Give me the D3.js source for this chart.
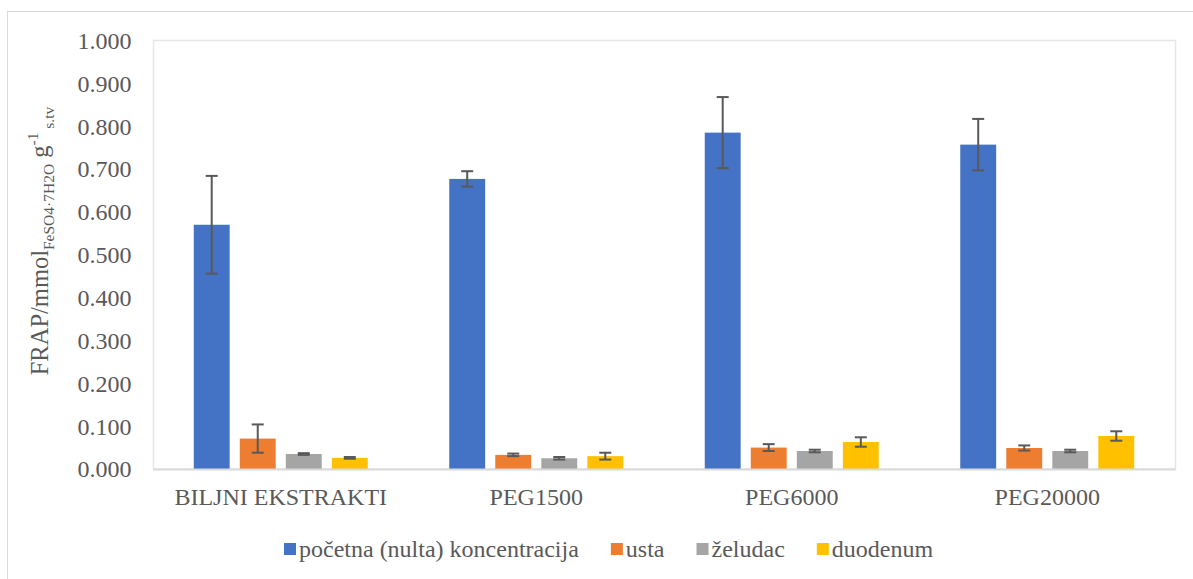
<!DOCTYPE html>
<html><head><meta charset="utf-8">
<script src="https://cdn.jsdelivr.net/npm/d3@7"></script>
<style>body{margin:0;background:#fff}svg{display:block}</style>
</head><body><svg id="c" width="1193" height="579"></svg>
<script>
const categories = ["BILJNI EKSTRAKTI", "PEG1500", "PEG6000", "PEG20000"];
const seriesNames = ["početna (nulta) koncentracija", "usta", "želudac", "duodenum"];
const seriesColors = ["#4472C4", "#ED7D31", "#A5A5A5", "#FFC000"];
const meanInitial = [0.570, 0.677, 0.785, 0.757];
const meanUsta = [0.071, 0.033, 0.050, 0.049];
const meanZeludac = [0.035, 0.025, 0.042, 0.042];
const meanDuodenum = [0.026, 0.030, 0.063, 0.077];
const sdInitial = [0.114, 0.018, 0.083, 0.060];
const sdUsta = [0.033, 0.003, 0.008, 0.006];
const sdZeludac = [0.002, 0.003, 0.003, 0.003];
const sdDuodenum = [0.002, 0.008, 0.011, 0.011];
const yTicks = [0, 0.1, 0.2, 0.3, 0.4, 0.5, 0.6, 0.7, 0.8, 0.9, 1.0];

const means = [meanInitial, meanUsta, meanZeludac, meanDuodenum];
const sds = [sdInitial, sdUsta, sdZeludac, sdDuodenum];
const FONT = '"Liberation Serif", "Times New Roman", "DejaVu Serif", serif';

const svg = d3.select("#c").style("font-family", FONT);
const L = 153, R = 1175, T = 40.5, B = 469;

svg.append("rect").attr("x", 7.5).attr("y", 11.5).attr("width", 1200).attr("height", 600)
  .attr("fill", "none").attr("stroke", "#d9d9d9").attr("stroke-width", 1);
svg.append("rect").attr("x", L + 0.5).attr("y", T).attr("width", R - L).attr("height", B - T)
  .attr("fill", "none").attr("stroke", "#e6e6e6").attr("stroke-width", 1.5);

const y = d3.scaleLinear().domain([0, 1]).range([B, T]);
const x0 = d3.scaleBand().domain(categories).range([L, R]).paddingInner(0.319).paddingOuter(0.1595);
const x1 = d3.scaleBand().domain(d3.range(4)).range([0, x0.bandwidth()]).paddingInner(0.22).paddingOuter(0);

const yAxis = d3.axisLeft(y).tickValues(yTicks).tickFormat(d3.format(".3f")).tickSize(0).tickPadding(0);
const ya = svg.append("g").attr("transform", `translate(131.5,0)`).call(yAxis);
ya.attr("font-family", FONT);
ya.select(".domain").remove();
ya.selectAll("text").style("font-family", FONT).style("font-size", "24px").attr("fill", "#595959").attr("dy", "0.33em");

const data = [];
categories.forEach((c, ci) => seriesNames.forEach((s, si) => data.push({c, si, v: means[si][ci], sd: sds[si][ci]})));
svg.append("g").selectAll("rect").data(data).join("rect")
  .attr("x", d => x0(d.c) + x1(d.si)).attr("width", x1.bandwidth())
  .attr("y", d => y(d.v)).attr("height", d => y(0) - y(d.v))
  .attr("fill", d => seriesColors[d.si]);

svg.append("line").attr("x1", L).attr("x2", R + 0.5).attr("y1", B + 0.5).attr("y2", B + 0.5)
  .attr("stroke", "#d9d9d9").attr("stroke-width", 2);

const eb = svg.append("g").attr("stroke", "#595959").attr("stroke-width", 2).attr("fill", "none");
data.forEach(d => {
  const cx = x0(d.c) + x1(d.si) + x1.bandwidth() / 2;
  const yt = y(d.v + d.sd), yb = y(d.v - d.sd);
  eb.append("line").attr("x1", cx).attr("x2", cx).attr("y1", yt).attr("y2", yb);
  eb.append("line").attr("x1", cx - 6).attr("x2", cx + 6).attr("y1", yt).attr("y2", yt);
  eb.append("line").attr("x1", cx - 6).attr("x2", cx + 6).attr("y1", yb).attr("y2", yb);
});

const xAxis = d3.axisBottom(x0).tickSize(0).tickPadding(0);
const xa = svg.append("g").attr("transform", `translate(0,505)`).call(xAxis);
xa.attr("font-family", FONT);
xa.select(".domain").remove();
xa.selectAll("text").style("font-family", FONT).style("font-size", "24px").attr("fill", "#595959").attr("dy", 0);

const yl = svg.append("text").attr("transform", "translate(48,241) rotate(-90)").attr("text-anchor", "middle")
  .style("font-family", FONT).style("font-size", "24.5px").attr("fill", "#595959");
yl.append("tspan").text("FRAP/mmol");
yl.append("tspan").text("FeSO4·7H2O").style("font-size", "15.5px").attr("dy", 6);
yl.append("tspan").text(" g").attr("dy", -6);
yl.append("tspan").text("-1").style("font-size", "15.5px").attr("dy", -10);
yl.append("tspan").text(" s.tv").style("font-size", "15.5px").attr("dy", 16);

const leg = svg.append("g").attr("transform", "translate(284,557)");
let lx = 0;
seriesNames.forEach((s, i) => {
  leg.append("rect").attr("x", lx).attr("y", -14).attr("width", 12).attr("height", 12).attr("fill", seriesColors[i]);
  const t = leg.append("text").attr("x", lx + 15).attr("y", 0).style("font-family", FONT)
    .style("font-size", "24px").attr("fill", "#595959").text(s);
  lx += 15 + t.node().getComputedTextLength() + 32;
});
</script></body></html>
